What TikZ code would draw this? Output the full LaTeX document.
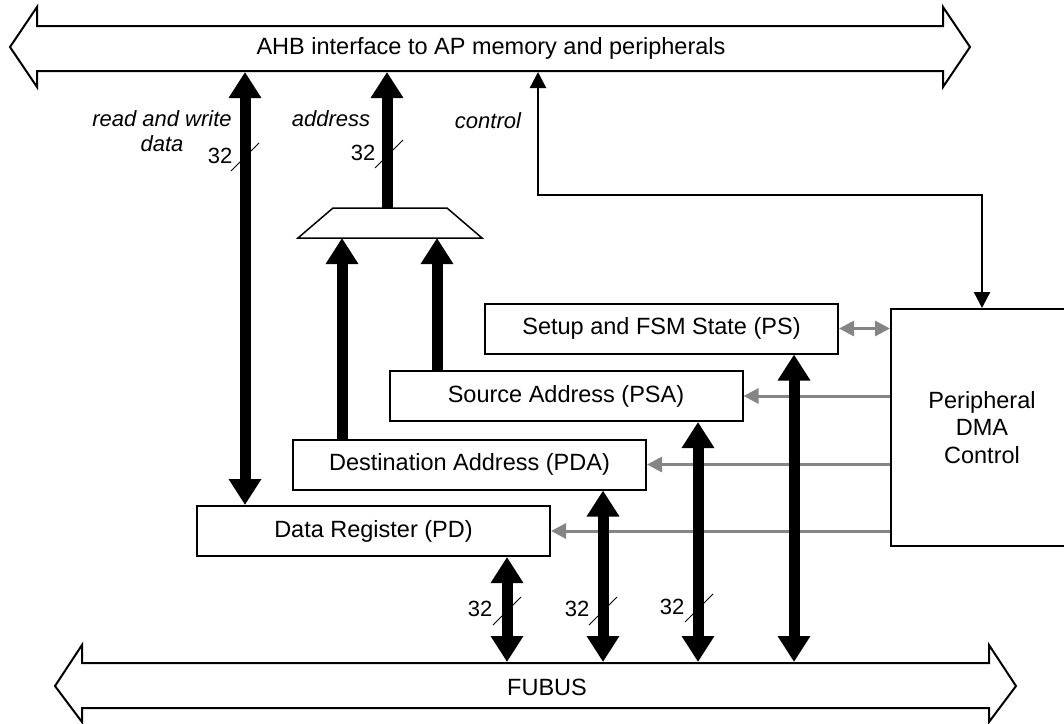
\documentclass[tikz,border=0pt]{standalone}
\usepackage{fontspec}
\setmainfont{Liberation Sans}
\usepackage{tikz}
\usetikzlibrary{arrows.meta, positioning}
\definecolor{LinkGray}{HTML}{858585}
\tikzset{
  regbox/.style={draw, line width=2pt, minimum width=353pt, minimum height=50pt, inner sep=0pt,
    font=\fontsize{23.5}{27.5}\selectfont},
  busoutline/.style={draw, line width=2pt, fill=white},
  fatup/.style={line width=11pt, -{Triangle[width=31pt,length=26pt]}},
  fatboth/.style={line width=11pt, {Triangle[width=31pt,length=26pt]}-{Triangle[width=31pt,length=26pt]}},
  ctlboth/.style={line width=2.3pt, {Triangle[width=16pt,length=16pt]}-{Triangle[width=16pt,length=16pt]}},
  grayto/.style={LinkGray, line width=3pt, -{Triangle[width=15pt,length=15pt]}},
  grayboth/.style={LinkGray, line width=3pt, {Triangle[width=15pt,length=15pt]}-{Triangle[width=15pt,length=15pt]}},
  sig/.style={inner sep=0pt, font=\fontsize{22}{25}\selectfont\itshape},
  buswidth/.style={inner sep=0pt, font=\fontsize{22}{25}\selectfont},
  slash/.style={line width=0.8pt}
}

\begin{document}
\begin{tikzpicture}[x=1pt, y=-1pt]
    \useasboundingbox (0,0) rectangle (1064,723);

    % the two system buses
    \draw[busoutline] (10,47) -- (37,7) -- (37,26) -- (943,26) -- (943,7) -- (970,47)
      -- (943,87) -- (943,71) -- (37,71) -- (37,87) -- cycle;
    \node[inner sep=0pt, font=\fontsize{23.5}{27.5}\selectfont] (ahb) at (491,48)
      {AHB interface to AP memory and peripherals};
    \draw[busoutline] (55,686) -- (82,645) -- (82,663) -- (989,663) -- (989,645) -- (1016,686)
      -- (989,722) -- (989,708) -- (82,708) -- (82,722) -- cycle;
    \node[inner sep=0pt, font=\fontsize{23.5}{27.5}\selectfont] (fubus) at (547,687) {FUBUS};
    \coordinate (ahbedge) at (0,72);
    \coordinate (fubedge) at (0,662);

    % registers and control block
    \node[regbox] (ps) at (661.5,328.5) {Setup and FSM State (PS)};
    \node[regbox] (psa) at (566,396) {Source Address (PSA)};
    \node[regbox] (pda) at (469.5,464.5) {Destination Address (PDA)};
    \node[regbox] (pd) at (373.5,531) {Data Register (PD)};
    \node[draw, line width=2pt, minimum width=182pt, minimum height=237pt, align=center,
      font=\fontsize{23.5}{27.5}\selectfont] (dma) at (982,427.5) {Peripheral\\DMA\\Control};

    % address mux
    \draw[line width=1.5pt, fill=white] (298,238) -- (333,208) -- (447,208) -- (482,238) -- cycle;
    \coordinate (muxtop) at (0,208);
    \coordinate (muxbot) at (0,238);

    \coordinate (rwcol) at (245,0);
    \coordinate (adcol) at (387,0);
    \coordinate (ctcol) at (538,0);
    \coordinate (mxa) at (342,0);
    \coordinate (mxb) at (437,0);
    \coordinate (fba) at (507,0);
    \coordinate (fbb) at (603,0);
    \coordinate (fbc) at (698,0);
    \coordinate (fbd) at (794,0);
    \coordinate (ctlbend) at (538,195);

    \draw[grayboth] (ps.east) -- (dma.west |- ps.east);
    \draw[grayto] (dma.west |- psa.east) -- (psa.east);
    \draw[grayto] (dma.west |- pda.east) -- (pda.east);
    \draw[grayto] (dma.west |- pd.east) -- (pd.east);

    \draw[ctlboth] (ahbedge -| ctcol) -- (ctlbend) -| (dma.north);

    \draw[fatboth] (pd.north -| rwcol) -- (ahbedge -| rwcol);
    \draw[fatup] (muxtop -| adcol) -- (ahbedge -| adcol);
    \draw[fatup] (pda.north -| mxa) -- (muxbot -| mxa);
    \draw[fatup] (psa.north -| mxb) -- (muxbot -| mxb);
    \draw[fatboth] (pd.south -| fba) -- (fubedge -| fba);
    \draw[fatboth] (pda.south -| fbb) -- (fubedge -| fbb);
    \draw[fatboth] (psa.south -| fbc) -- (fubedge -| fbc);
    \draw[fatboth] (ps.south -| fbd) -- (fubedge -| fbd);

    % signal names and bus widths
    \node[sig, align=center] (rwlabel) at (162,131) {read and write\\data};
    \node[sig] (adlabel) at (331,119) {address};
    \node[sig] (ctlabel) at (488,121) {control};
    \foreach \wx/\wy/\nx/\ny in {245/157/220/156, 389/154/363/153, 507/611/480/609,
                                 603/611/577/609, 699/608/672/607} {
      \draw[slash] (\wx,\wy) ++(-14,14) -- ++(28,-28);
      \node[buswidth] at (\nx,\ny) {32};
    }
  \end{tikzpicture}
\end{document}
